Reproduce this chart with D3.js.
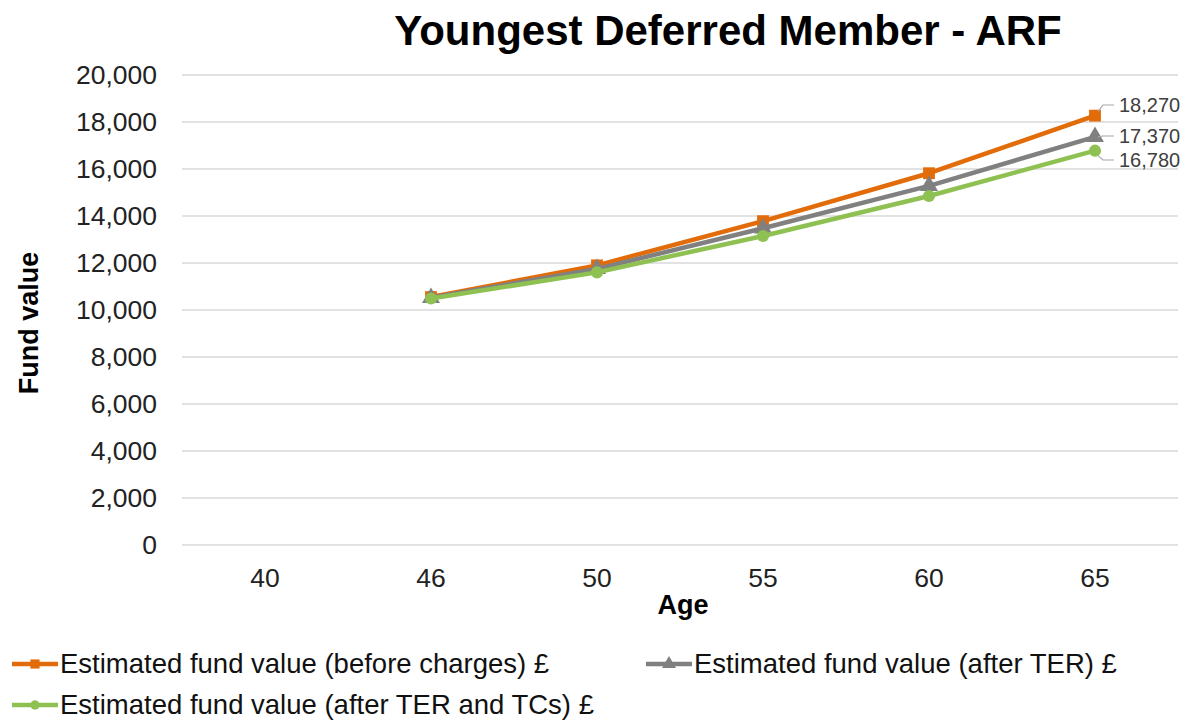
<!DOCTYPE html>
<html>
<head>
<meta charset="utf-8">
<script src="https://cdn.jsdelivr.net/npm/d3@7"></script>
<style>
  html, body { margin: 0; padding: 0; background: #fff; }
  svg { display: block; font-family: "Liberation Sans", Arial, sans-serif; }
</style>
</head>
<body>
<svg id="chart" width="1182" height="721"></svg>
<script>
// Ages on the category axis
const ages = ["40", "46", "50", "55", "60", "65"];
// Fund values per age (null = no value at that age)
const beforeCharges = [null, 10550, 11900, 13780, 15820, 18270];
const afterTER      = [null, 10520, 11750, 13480, 15280, 17370];
const afterTERTCs   = [null, 10490, 11600, 13150, 14850, 16780];
const yTicks = [0, 2000, 4000, 6000, 8000, 10000, 12000, 14000, 16000, 18000, 20000];

const seriesNames = [
  "Estimated fund value (before charges) £",
  "Estimated fund value (after TER) £",
  "Estimated fund value (after TER and TCs) £"
];
const seriesColors = ["#E36C0A", "#808080", "#8EC152"];
const seriesShapes = [d3.symbolSquare, d3.symbolTriangle, d3.symbolCircle];
const seriesValues = [beforeCharges, afterTER, afterTERTCs];

const svg = d3.select("#chart");
const margin = { left: 182, right: 1178, top: 75, bottom: 545 };

const x = d3.scaleBand().domain(ages).range([margin.left, margin.right]);
const y = d3.scaleLinear().domain([0, 20000]).range([margin.bottom, margin.top]);

// Gridlines
svg.append("g")
  .selectAll("line")
  .data(yTicks)
  .join("line")
  .attr("x1", margin.left).attr("x2", margin.right)
  .attr("y1", d => y(d)).attr("y2", d => y(d))
  .attr("stroke", "#d9d9d9").attr("stroke-width", 1.3);

// Y axis labels
const yAxis = d3.axisLeft(y).tickValues(yTicks).tickFormat(d3.format(",")).tickSize(0).tickPadding(25);
const gy = svg.append("g").attr("transform", `translate(${margin.left},0)`).call(yAxis);
gy.select(".domain").remove();
gy.selectAll("text").attr("font-size", 26.5).attr("fill", "#222").attr("font-family", "Liberation Sans, Arial, sans-serif");

// X axis labels
const xAxis = d3.axisBottom(x).tickSize(0).tickPadding(0);
const gx = svg.append("g").attr("transform", `translate(0,${margin.bottom})`).call(xAxis);
gx.select(".domain").remove();
gx.selectAll("text").attr("dy", null).attr("y", 42)
  .attr("font-size", 26.5).attr("fill", "#222").attr("font-family", "Liberation Sans, Arial, sans-serif");

// Title
svg.append("text")
  .attr("x", 728).attr("y", 45)
  .attr("text-anchor", "middle")
  .attr("font-size", 42).attr("font-weight", "bold").attr("fill", "#000")
  .text("Youngest Deferred Member - ARF");

// Axis titles
svg.append("text")
  .attr("transform", "translate(38,323) rotate(-90)")
  .attr("text-anchor", "middle")
  .attr("font-size", 27).attr("font-weight", "bold").attr("fill", "#000")
  .text("Fund value");
svg.append("text")
  .attr("x", 683).attr("y", 614)
  .attr("text-anchor", "middle")
  .attr("font-size", 27).attr("font-weight", "bold").attr("fill", "#000")
  .text("Age");

const cx = a => x(a) + x.bandwidth() / 2;
const line = d3.line()
  .defined(d => d.v != null)
  .x(d => cx(d.a))
  .y(d => y(d.v));

const symSize = [140, 140, 115];

seriesValues.forEach((vals, i) => {
  const pts = ages.map((a, j) => ({ a, v: vals[j] }));
  const g = svg.append("g");
  g.append("path")
    .datum(pts)
    .attr("d", line)
    .attr("fill", "none")
    .attr("stroke", seriesColors[i])
    .attr("stroke-width", 4.5)
    .attr("stroke-linejoin", "round");
  g.selectAll("path.m")
    .data(pts.filter(d => d.v != null))
    .join("path")
    .attr("class", "m")
    .attr("transform", d => `translate(${cx(d.a)},${y(d.v)})`)
    .attr("d", d3.symbol().type(seriesShapes[i]).size(symSize[i]))
    .attr("fill", seriesColors[i]);
});

// End-point value labels with leader lines
const lastAge = ages[ages.length - 1];
const labelY = [112, 143, 167];
const leaderOffset = [-4, 0, 5];
seriesValues.forEach((vals, i) => {
  const v = vals[vals.length - 1];
  const px = cx(lastAge), py = y(v);
  const lx = 1119, ly = labelY[i];
  const hy = ly - 7;
  svg.append("polyline")
    .attr("points", `${px + 3},${py + leaderOffset[i]} ${px + 8},${hy} ${lx - 5},${hy}`)
    .attr("fill", "none").attr("stroke", "#a6a6a6").attr("stroke-width", 1.2);
  svg.append("text")
    .attr("x", lx).attr("y", ly)
    .attr("font-size", 20).attr("fill", "#404040")
    .text(d3.format(",")(v));
});

// Legend
const legendPos = [
  { x: 12, y: 664 },
  { x: 646, y: 664 },
  { x: 12, y: 705 }
];
legendPos.forEach((p, i) => {
  const g = svg.append("g").attr("transform", `translate(${p.x},${p.y})`);
  g.append("line").attr("x1", 0).attr("x2", 46).attr("y1", 0).attr("y2", 0)
    .attr("stroke", seriesColors[i]).attr("stroke-width", 4.5);
  g.append("path").attr("transform", "translate(23,0)")
    .attr("d", d3.symbol().type(seriesShapes[i]).size(symSize[i] * 0.6))
    .attr("fill", seriesColors[i]);
  g.append("text").attr("x", 48).attr("y", 9)
    .attr("font-size", 27.5).attr("fill", "#111")
    .text(seriesNames[i]);
});
</script>
</body>
</html>
